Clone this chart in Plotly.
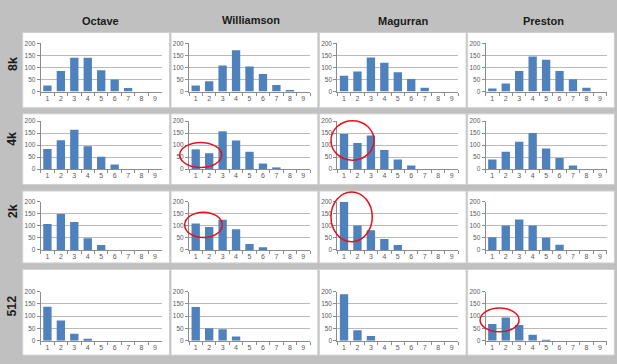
import plotly.graph_objects as go

# ---------------- data ----------------
categories = ["1", "2", "3", "4", "5", "6", "7", "8", "9"]
methods = ["Octave", "Williamson", "Magurran", "Preston"]
sizes = ["8k", "4k", "2k", "512"]
y_ticks = [0, 50, 100, 150, 200]

octave_8k = [25, 85, 140, 140, 88, 50, 15, 0, 0]
williamson_8k = [25, 43, 108, 171, 104, 73, 27, 7, 0]
magurran_8k = [65, 83, 141, 119, 80, 52, 16, 0, 0]
preston_8k = [13, 33, 85, 145, 132, 85, 51, 16, 0]

octave_4k = [83, 120, 164, 95, 51, 19, 0, 0, 0]
williamson_4k = [82, 66, 157, 119, 72, 23, 7, 0, 0]
magurran_4k = [146, 109, 140, 79, 40, 15, 0, 0, 0]
preston_4k = [40, 72, 114, 150, 86, 46, 15, 0, 0]

octave_2k = [108, 149, 116, 48, 20, 0, 0, 0, 0]
williamson_2k = [110, 95, 125, 86, 24, 11, 0, 0, 0]
magurran_2k = [200, 101, 82, 45, 20, 0, 0, 0, 0]
preston_2k = [53, 101, 126, 101, 50, 21, 0, 0, 0]

octave_512 = [138, 82, 28, 8, 0, 0, 0, 0, 0]
williamson_512 = [137, 51, 47, 17, 0, 0, 0, 0, 0]
magurran_512 = [189, 43, 19, 0, 0, 0, 0, 0, 0]
preston_512 = [68, 95, 64, 24, 4, 0, 0, 0, 0]

grid = [
    [octave_8k, williamson_8k, magurran_8k, preston_8k],
    [octave_4k, williamson_4k, magurran_4k, preston_4k],
    [octave_2k, williamson_2k, magurran_2k, preston_2k],
    [octave_512, williamson_512, magurran_512, preston_512],
]

# highlighted regions (row, col, x0, x1, y0, y1) in category-number / value units
highlights = [
    (1, 1, -0.19, 2.93, 6.5, 111),
    (1, 2, 0.03, 3.23, 37, 201),
    (2, 1, 0.18, 2.97, 51, 157),
    (2, 2, 0.03, 3.10, 34, 241),
    (3, 3, 0.09, 2.99, 36, 133),
]

# ---------------- layout geometry (pixels) ----------------
W, H = 617, 364
COL_STEP = 148.3
PANEL_X0, PANEL_W = 22.7, 146.8
PLOT_X0, PLOT_W = 40.7, 121.0
panel_rows = [(29, 105.7), (112, 184), (190.7, 264), (270.7, 358)]
plot_rows = [(40, 89.3), (119.3, 168.3), (201.7, 250.7), (293.3, 343.3)]
title_x = [100, 251, 403, 543]
title_y = [17.5, 16.3, 17.5, 17.5]
row_label_y = [61.7, 138, 211.7, 308]
YMAX = 200

BG = "#c0c0c0"
BAR = "#4f81bd"
FONT = "Liberation Sans, Arial, sans-serif"


def px(x):
    return x / W


def py(y):
    return 1 - y / H


fig = go.Figure()
layout = dict(
    width=W, height=H, margin=dict(l=0, r=0, t=0, b=0),
    paper_bgcolor=BG, plot_bgcolor="white", showlegend=False,
    bargap=0.38, font=dict(family=FONT),
)
shapes = []
annotations = []

for r in range(4):
    for c in range(4):
        k = r * 4 + c + 1
        xa = "x" if k == 1 else f"x{k}"
        ya = "y" if k == 1 else f"y{k}"
        fig.add_trace(go.Bar(
            x=categories, y=grid[r][c], xaxis=xa, yaxis=ya,
            marker=dict(color=BAR, line=dict(width=0)),
            hoverinfo="x+y",
        ))
        x0 = PLOT_X0 + c * COL_STEP
        top, bot = plot_rows[r]
        layout["xaxis" if k == 1 else f"xaxis{k}"] = dict(
            domain=[px(x0), px(x0 + PLOT_W)], anchor=ya,
            type="category", range=[-0.5, 8.5],
            showgrid=False, showline=True, linecolor="#8c8c8c", linewidth=1,
            ticks="outside", tickson="boundaries", ticklen=3, tickcolor="#8c8c8c",
            tickfont=dict(size=7, color="#595959"), fixedrange=True,
        )
        layout["yaxis" if k == 1 else f"yaxis{k}"] = dict(
            domain=[py(bot), py(top)], anchor=xa,
            range=[0, YMAX], tickvals=y_ticks,
            showgrid=True, gridcolor="#bababa", gridwidth=1, zeroline=False,
            showline=True, linecolor="#8c8c8c", linewidth=1,
            ticks="outside", ticklen=3, tickcolor="#8c8c8c",
            tickfont=dict(size=6.5, color="#595959"), fixedrange=True,
        )
        # white panel background
        p0, p1 = panel_rows[r]
        shapes.append(dict(
            type="rect", xref="paper", yref="paper", layer="below",
            x0=px(PANEL_X0 + c * COL_STEP), x1=px(PANEL_X0 + c * COL_STEP + PANEL_W),
            y0=py(p1), y1=py(p0),
            fillcolor="white", line=dict(color="#d0d0d0", width=1),
        ))

for (r, c, hx0, hx1, hy0, hy1) in highlights:
    k = r * 4 + c + 1
    shapes.append(dict(
        type="circle", xref=f"x{k} domain", yref=f"y{k} domain", layer="above",
        x0=(hx0 - 0.5) / 9, x1=(hx1 - 0.5) / 9, y0=hy0 / YMAX, y1=hy1 / YMAX,
        line=dict(color="#e8101a", width=1.5), fillcolor="rgba(0,0,0,0)",
    ))

for i, m in enumerate(methods):
    annotations.append(dict(
        text=f"<b>{m}</b>", x=px(title_x[i]), y=py(title_y[i]), xref="paper", yref="paper",
        showarrow=False, xanchor="center", yanchor="middle",
        font=dict(size=11, color="#1a1a1a", family=FONT),
    ))

for i, s in enumerate(sizes):
    annotations.append(dict(
        text=f"<b>{s}</b>", x=px(12.5), y=py(row_label_y[i]), xref="paper", yref="paper",
        showarrow=False, xanchor="center", yanchor="middle", textangle=-90,
        font=dict(size=12.5, color="#1a1a1a", family=FONT),
    ))

layout["shapes"] = shapes
layout["annotations"] = annotations
fig.update_layout(**layout)
fig.write_html(
    "out.html",
    config={"displayModeBar": False},
    post_script="document.body.style.margin='0';document.body.style.overflow='hidden';",
)
